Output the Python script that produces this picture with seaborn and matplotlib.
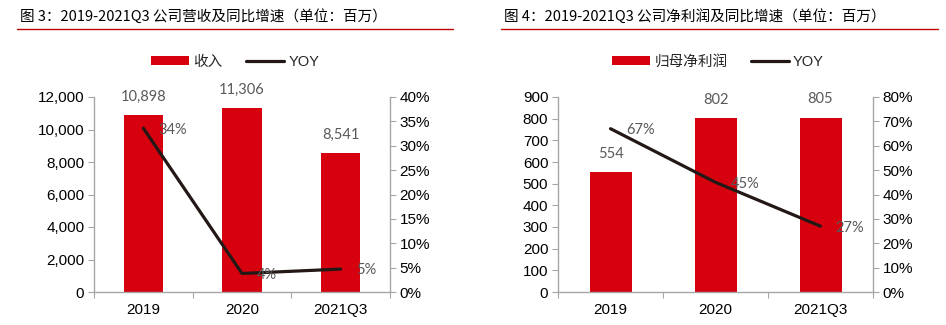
import numpy as np
import pandas as pd
import matplotlib
matplotlib.use("Agg")
import matplotlib.pyplot as plt
import seaborn as sns
from matplotlib.lines import Line2D
from matplotlib.patches import Patch
from matplotlib.ticker import FuncFormatter, FixedLocator, MultipleLocator
from matplotlib.font_manager import FontProperties

# ---- data ----
categories = ["2019", "2020", "2021Q3"]
revenue = [10898, 11306, 8541]
revenue_yoy = [0.336, 0.038, 0.047]
profit = [554, 802, 805]
profit_yoy = [0.67, 0.45, 0.27]

title_left = "图 3：2019-2021Q3 公司营收及同比增速（单位：百万）"
title_right = "图 4：2019-2021Q3 公司净利润及同比增速（单位：百万）"
bar_name_left = "收入"
bar_name_right = "归母净利润"
line_name = "YOY"

sns.set_theme(style="white")
plt.rcParams["font.family"] = ["Liberation Sans", "Noto Sans CJK SC", "DejaVu Sans"]

RED = "#D7000F"
LINE = "#231815"
GRAY_AX = "#A6A6A6"
LABEL_C = "#595959"
W, H = 946, 325
TICK_FS = 11

fig = plt.figure(figsize=(W / 100, H / 100), dpi=100)


def panel(left_px, right_px, vals, yoy, ymax, ystep, pmax, pstep, bar_name,
          title, title_x, rule_x0, rule_x1, leg_cx):
    top_px, bot_px = 97, 292
    ax = fig.add_axes([left_px / W, (H - bot_px) / H,
                       (right_px - left_px) / W, (bot_px - top_px) / H])
    df = pd.DataFrame({"cat": categories, "val": vals})
    sns.barplot(data=df, x="cat", y="val", color=RED, width=0.4, ax=ax,
                saturation=1, edgecolor="none")
    ax.set_xlim(-0.5, 2.5)
    ax.set_ylim(0, ymax)
    ax.yaxis.set_major_locator(MultipleLocator(ystep))
    ax.yaxis.set_major_formatter(FuncFormatter(lambda v, p: f"{int(v):,}"))
    ax.set_xlabel("")
    ax.set_ylabel("")
    ax.xaxis.set_minor_locator(FixedLocator([-0.5, 0.5, 1.5, 2.5]))
    ax.tick_params(axis="x", which="major", length=0, pad=8, labelsize=TICK_FS,
                   labelcolor="black")
    ax.tick_params(axis="x", which="minor", length=4, width=0.8, color=GRAY_AX,
                   direction="out", bottom=True)
    ax.tick_params(axis="y", length=4, width=0.8, color=GRAY_AX, direction="out",
                   left=True, labelsize=TICK_FS, labelcolor="black", pad=3)
    for s in ["left", "bottom"]:
        ax.spines[s].set_color(GRAY_AX)
        ax.spines[s].set_linewidth(1)
    ax.spines["top"].set_visible(False)
    ax.spines["right"].set_visible(False)

    for i, v in enumerate(vals):
        ax.annotate(f"{v:,}", (i, v), xytext=(0, 8), textcoords="offset points",
                    ha="center", va="bottom", fontsize=10.5, color=LABEL_C,
                    family="Lato")

    ax2 = ax.twinx()
    sns.lineplot(x=np.arange(len(categories)), y=yoy, ax=ax2, color=LINE,
                 linewidth=2.3, legend=False)
    ax2.set_ylim(0, pmax)
    ax2.yaxis.set_major_locator(MultipleLocator(pstep))
    ax2.yaxis.set_major_formatter(FuncFormatter(lambda v, p: f"{v * 100:.0f}%"))
    ax2.tick_params(axis="y", length=4, width=0.8, color=GRAY_AX, direction="out",
                    right=True, labelsize=TICK_FS, labelcolor="black", pad=3)
    ax2.set_xlim(-0.5, 2.5)
    for s in ["top", "left", "bottom"]:
        ax2.spines[s].set_visible(False)
    ax2.spines["right"].set_color(GRAY_AX)
    ax2.spines["right"].set_linewidth(1)
    for i, v in enumerate(yoy):
        ax2.annotate(f"{round(v * 100):d}%", (i, v), xytext=(11, -1),
                     textcoords="offset points", ha="left", va="center",
                     fontsize=10.5, color=LABEL_C, family="Lato")

    handles = [Patch(facecolor=RED, edgecolor="none"),
               Line2D([0], [0], color=LINE, lw=2.3)]
    leg_x = (leg_cx - left_px) / (right_px - left_px)
    leg_y = (bot_px - 62) / (bot_px - top_px)
    ax.legend(handles, [bar_name, line_name], loc="center",
              bbox_to_anchor=(leg_x, leg_y), ncol=2, frameon=False,
              handlelength=2.6, handleheight=0.55, handletextpad=0.3,
              columnspacing=1.6,
              prop=FontProperties(family=["Liberation Sans", "Noto Sans CJK SC"],
                                  size=10.5))

    fig.text(title_x / W, 1 - 16 / H, title, ha="left", va="center",
             fontsize=10.5, color="black",
             family=["Noto Sans CJK SC", "DejaVu Sans"])
    fig.add_artist(Line2D([rule_x0 / W, rule_x1 / W], [1 - 29 / H] * 2,
                          color="#C00000", lw=1.0))
    return ax


panel(94, 390, revenue, revenue_yoy, 12000, 2000, 0.40, 0.05, bar_name_left,
      title_left, 20, 17, 453, 235)
panel(558, 873, profit, profit_yoy, 900, 100, 0.80, 0.10, bar_name_right,
      title_right, 504, 501, 938, 718)

fig.savefig("out.png", dpi=100)
